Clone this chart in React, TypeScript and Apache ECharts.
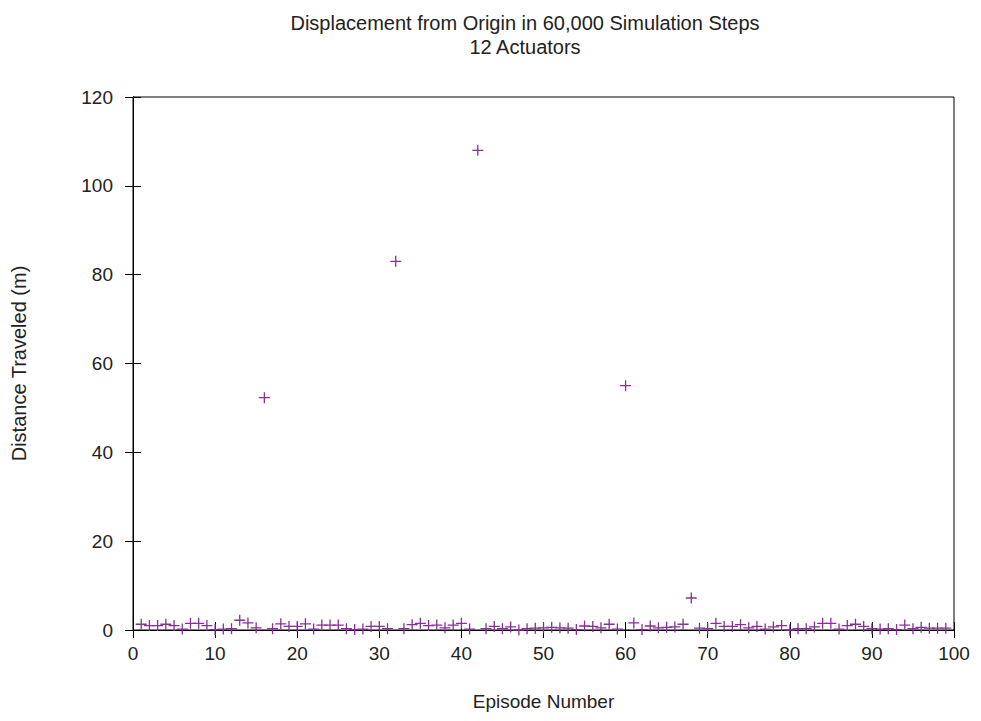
import React, { useEffect, useRef } from "react";
import * as echarts from "echarts";

const titleLines = ["Displacement from Origin in 60,000 Simulation Steps", "12 Actuators"];
const xAxisName = "Episode Number";
const yAxisName = "Distance Traveled (m)";

const episodes: number[] = Array.from({ length: 99 }, (_, i) => i + 1);

const distances: number[] = [
  1.3, 1.0, 1.0, 1.3, 1.0, 0.2, 1.5, 1.5, 1.0, 0.1,
  0.2, 0.3, 2.2, 1.6, 0.5, 52.3, 0.3, 1.4, 0.8, 0.8,
  1.4, 0.2, 1.1, 1.1, 1.1, 0.3, 0.1, 0.2, 0.8, 0.8,
  0.3, 83.0, 0.3, 1.2, 1.5, 1.0, 1.1, 0.5, 1.1, 1.5,
  0.2, 108.0, 0.3, 0.8, 0.3, 0.7, 0.0, 0.3, 0.4, 0.5,
  0.6, 0.5, 0.4, 0.1, 0.9, 0.8, 0.5, 1.3, 0.2, 55.0,
  1.6, 0.1, 0.9, 0.5, 0.6, 0.7, 1.3, 7.2, 0.4, 0.3,
  1.5, 0.8, 0.8, 1.2, 0.5, 0.8, 0.2, 0.7, 1.0, 0.0,
  0.3, 0.3, 0.7, 1.5, 1.5, 0.2, 1.0, 1.3, 0.8, 0.3,
  0.2, 0.3, 0.1, 1.1, 0.3, 0.6, 0.4, 0.4, 0.4,
];

const FONT = "'Liberation Sans', Arial, sans-serif";
const TEXT = "#222";
const PURPLE = "#8A2E9C";

export default function App() {
  const ref = useRef<HTMLDivElement>(null);
  useEffect(() => {
    if (!ref.current) return;
    const chart = echarts.init(ref.current, undefined, { renderer: "svg" });
    const tickCommon = { inside: true, length: 8, lineStyle: { color: "#000", width: 1 } };
    chart.setOption({
      animation: false,
      backgroundColor: "#fff",
      title: {
        text: titleLines.join("\n"),
        left: 520,
        top: 6,
        textAlign: "center",
        textStyle: { fontFamily: FONT, fontSize: 20, fontWeight: "normal", color: TEXT, lineHeight: 24 },
      },
      grid: {
        left: 133,
        right: 27,
        top: 97,
        bottom: 91,
        show: true,
        borderColor: "#000",
        borderWidth: 1,
        backgroundColor: "transparent",
      },
      xAxis: [
        {
          type: "value",
          min: 0,
          max: 100,
          interval: 10,
          position: "bottom",
          name: xAxisName,
          nameLocation: "middle",
          nameGap: 62,
          nameTextStyle: { fontFamily: FONT, fontSize: 19, color: TEXT },
          axisLine: { show: true, lineStyle: { color: "#000" } },
          axisTick: tickCommon,
          axisLabel: { fontFamily: FONT, fontSize: 19, color: TEXT, margin: 14 },
          splitLine: { show: false },
        },
        {
          type: "value",
          min: 0,
          max: 100,
          interval: 10,
          position: "top",
          axisLine: { show: true, lineStyle: { color: "#000" } },
          axisTick: tickCommon,
          axisLabel: { show: false },
          splitLine: { show: false },
        },
      ],
      yAxis: [
        {
          type: "value",
          min: 0,
          max: 120,
          interval: 20,
          position: "left",
          name: yAxisName,
          nameLocation: "middle",
          nameGap: 104,
          nameRotate: 90,
          nameTextStyle: { fontFamily: FONT, fontSize: 20, color: TEXT },
          axisLine: { show: true, lineStyle: { color: "#000" } },
          axisTick: tickCommon,
          axisLabel: { fontFamily: FONT, fontSize: 19, color: TEXT, margin: 20 },
          splitLine: { show: false },
        },
        {
          type: "value",
          min: 0,
          max: 120,
          interval: 20,
          position: "right",
          axisLine: { show: true, lineStyle: { color: "#000" } },
          axisTick: tickCommon,
          axisLabel: { show: false },
          splitLine: { show: false },
        },
      ],
      series: [
        {
          type: "scatter",
          xAxisIndex: 0,
          yAxisIndex: 0,
          data: episodes.map((e, i) => [e, distances[i]]),
          symbol: "path://M0,5L10,5M5,0L5,10",
          symbolSize: 11,
          itemStyle: { color: "none", borderColor: PURPLE, borderWidth: 1.3, opacity: 1 },
        },
      ],
    });
    return () => chart.dispose();
  }, []);
  return <div ref={ref} style={{ width: 981, height: 721, position: "absolute", left: 0, top: 0 }} />;
}
